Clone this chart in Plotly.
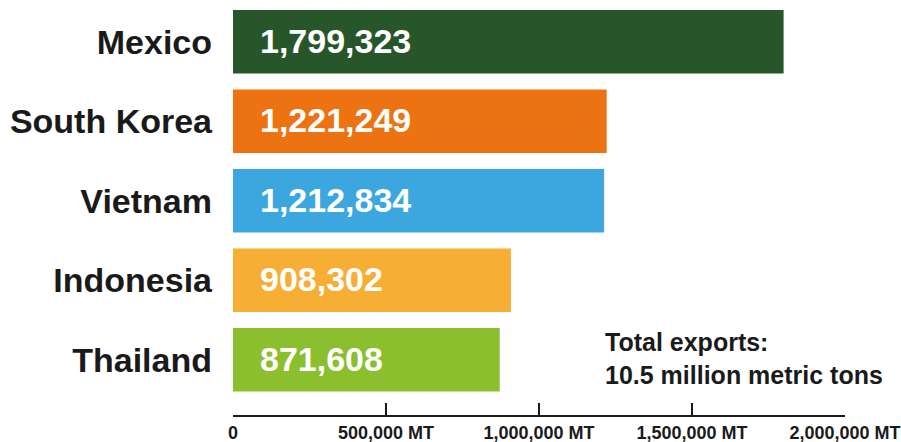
import plotly.graph_objects as go

countries = ["Mexico", "South Korea", "Vietnam", "Indonesia", "Thailand"]
exports_mt = [1799323, 1221249, 1212834, 908302, 871608]
bar_colors = ["#27562b", "#ec7212", "#3ba7de", "#f7ae35", "#8bbf2d"]
tick_vals = [0, 500000, 1000000, 1500000, 2000000]
tick_text = ["0", "500,000 MT", "1,000,000 MT", "1,500,000 MT", "2,000,000 MT"]
note_text = "Total exports:<br>10.5 million metric tons"

fig = go.Figure()
fig.add_trace(go.Bar(
    x=exports_mt,
    y=countries,
    orientation="h",
    marker=dict(color=bar_colors, line=dict(width=0)),
    hoverinfo="skip",
))

for c, v in zip(countries, exports_mt):
    fig.add_annotation(
        x=0, y=c, xref="x", yref="y",
        text=f"{v:,}", showarrow=False,
        xanchor="left", yanchor="middle", xshift=25, yshift=1,
        font=dict(family="Liberation Sans", size=34, color="white", weight="bold"),
    )

fig.update_layout(
    width=901, height=442,
    margin=dict(l=233, r=56, t=2, b=27),
    plot_bgcolor="white", paper_bgcolor="white",
    bargap=0.2,
    showlegend=False,
    xaxis=dict(
        range=[0, 2000000],
        tickvals=tick_vals, ticktext=tick_text,
        ticks="inside", ticklen=12, tickwidth=2, tickcolor="#1a1a1a",
        showline=True, linecolor="#1a1a1a", linewidth=2,
        showgrid=False, zeroline=False, automargin=False,
        tickfont=dict(family="Liberation Sans", size=18, color="#1a1a1a", weight="bold"),
        fixedrange=True,
    ),
    yaxis=dict(
        categoryorder="array", categoryarray=countries,
        range=[4.695, -0.5],
        showgrid=False, zeroline=False, showline=False, automargin=False,
        ticks="", ticklabelstandoff=20,
        tickfont=dict(family="Liberation Sans", size=34, color="#1a1a1a", weight="bold"),
        fixedrange=True,
    ),
)

fig.add_annotation(
    text=note_text,
    xref="paper", yref="paper",
    x=(603 - 233) / (901 - 233 - 56), y=(415 - 326) / 413,
    xanchor="left", yanchor="top", align="left",
    showarrow=False,
    font=dict(family="Liberation Sans", size=25, color="#1a1a1a", weight="bold"),
)

fig.write_html("out.html")
